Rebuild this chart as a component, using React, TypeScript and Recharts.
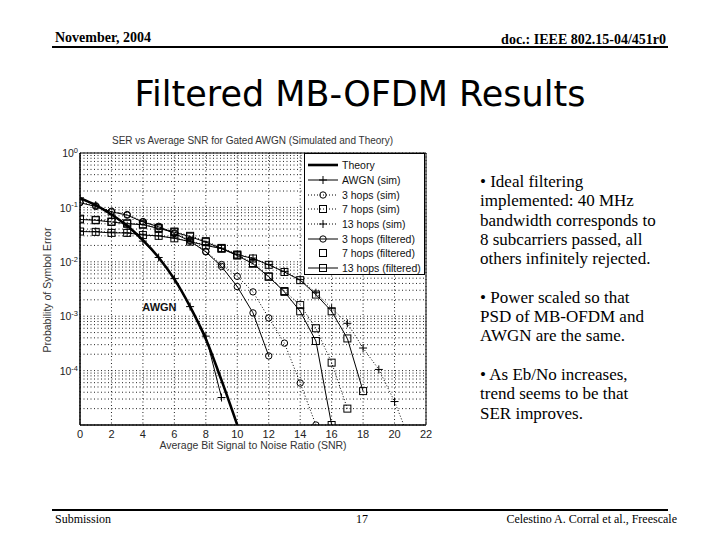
import React from 'react';
import { LineChart, Line, XAxis, YAxis, CartesianGrid, Legend, ReferenceArea, ReferenceDot } from 'recharts';

// x axis: average bit SNR in dB, every series starts at 0 dB with 1 dB steps
const snrTicks = [0, 2, 4, 6, 8, 10, 12, 14, 16, 18, 20, 22];
const decades = [1, 0.1, 0.01, 0.001, 0.0001, 0.00001];
const minorSteps = [1, 2, 3, 4, 5, 6, 7, 8, 9];
const decadeLabels = ['0', '-1', '-2', '-3', '-4'];

// probability of symbol error
const theory = [0.148, 0.11, 0.074, 0.046, 0.025, 0.012, 0.0048, 0.0015, 0.00038, 0.000066, 0.00001];
const awgnSim = [0.15, 0.11, 0.073, 0.046, 0.024, 0.012, 0.0049, 0.0015, 0.00043, 0.000032];
const hops3Sim = [0.125, 0.107, 0.085, 0.074, 0.055, 0.045, 0.034, 0.025, 0.0155, 0.0089, 0.0054, 0.0028, 0.00093, 0.00032, 0.000059, 0.00001];
const hops7Sim = [0.062, 0.059, 0.055, 0.051, 0.049, 0.042, 0.036, 0.03, 0.024, 0.018, 0.0135, 0.0095, 0.0054, 0.0029, 0.0016, 0.0006, 0.00014, 0.00002];
const hops13Sim = [0.037, 0.036, 0.035, 0.034, 0.032, 0.03, 0.0275, 0.024, 0.0204, 0.0178, 0.0138, 0.0117, 0.0089, 0.0066, 0.0047, 0.0027, 0.0014, 0.00074, 0.00026, 0.000105, 0.000027, 0.000005];
const hops3Filt = [0.122, 0.104, 0.083, 0.072, 0.054, 0.044, 0.033, 0.024, 0.0152, 0.0082, 0.0035, 0.00115, 0.000186];
const hops7Filt = [0.06, 0.058, 0.054, 0.05, 0.048, 0.041, 0.035, 0.029, 0.023, 0.0175, 0.013, 0.0092, 0.0053, 0.0028, 0.00123, 0.00035, 0.00001];
const hops13Filt = [0.036, 0.0355, 0.034, 0.034, 0.031, 0.03, 0.027, 0.0235, 0.02, 0.0175, 0.0135, 0.0115, 0.0088, 0.0065, 0.0046, 0.0025, 0.00123, 0.00039, 0.000042];

const yTicks = decades.slice(0, 5).flatMap((d) => minorSteps.map((m) => m * d / 10)).concat([1]);

const toRows = (vals: number[]) => vals.map((v, i) => ({ snr: i, ser: v }));

type Marker = 'none' | 'circle' | 'square' | 'plus';

const series = [
  { name: 'Theory', vals: theory, width: 2.6, dash: undefined, marker: 'none' as Marker, curve: 'monotone', legendLine: true },
  { name: 'AWGN (sim)', vals: awgnSim, width: 1, dash: undefined, marker: 'plus' as Marker, curve: 'linear', legendLine: true },
  { name: '3 hops (sim)', vals: hops3Sim, width: 1, dash: '1 2', marker: 'circle' as Marker, curve: 'linear', legendLine: true },
  { name: '7 hops (sim)', vals: hops7Sim, width: 1, dash: '1 2', marker: 'square' as Marker, curve: 'linear', legendLine: true },
  { name: '13 hops (sim)', vals: hops13Sim, width: 1, dash: '1 2', marker: 'plus' as Marker, curve: 'linear', legendLine: true },
  { name: '3 hops (filtered)', vals: hops3Filt, width: 1, dash: undefined, marker: 'circle' as Marker, curve: 'linear', legendLine: true },
  { name: '7 hops (filtered)', vals: hops7Filt, width: 1, dash: undefined, marker: 'square' as Marker, curve: 'linear', legendLine: false },
  { name: '13 hops (filtered)', vals: hops13Filt, width: 1, dash: undefined, marker: 'square' as Marker, curve: 'linear', legendLine: true },
];

const font = '"Liberation Sans", Arial, sans-serif';

function markerShape(kind: Marker, cx: number, cy: number, key?: string | number) {
  if (kind === 'circle') return <circle key={key} cx={cx} cy={cy} r={3.2} fill="none" stroke="#000" strokeWidth={1} />;
  if (kind === 'square') return <rect key={key} x={cx - 3.5} y={cy - 3.5} width={7} height={7} fill="none" stroke="#000" strokeWidth={1} />;
  if (kind === 'plus')
    return (
      <path key={key} d={`M${cx - 4},${cy}H${cx + 4}M${cx},${cy - 4}V${cy + 4}`} stroke="#000" strokeWidth={1} fill="none" />
    );
  return <g key={key} />;
}

const makeDot = (kind: Marker) => (props: any) => {
  const { cx, cy, index } = props;
  if (kind === 'none' || cx == null || cy == null) return <g key={`d${index}`} />;
  return markerShape(kind, cx, cy, `d${index}`);
};

const YTick = (props: any) => {
  const { x, y, payload } = props;
  const idx = decades.indexOf(payload.value);
  if (idx < 0 || idx >= decadeLabels.length) return <g />;
  return (
    <text x={x} y={y} textAnchor="end" fontFamily={font} fontSize={10.5} fill="#222">
      <tspan dy="0.4em">10</tspan>
      <tspan dy="-0.55em" fontSize={7.5}>{decadeLabels[idx]}</tspan>
    </text>
  );
};

const LegendBox = () => (
  <div
    style={{
      width: 121,
      height: 122,
      border: '1px solid #000',
      background: '#fff',
      fontFamily: font,
      fontSize: 10.5,
      color: '#111',
      paddingTop: 4,
      boxSizing: 'border-box',
    }}
  >
    {series.map((s) => (
      <div key={s.name} style={{ display: 'flex', alignItems: 'center', height: 14.7 }}>
        <svg width={36} height={14} style={{ flex: 'none' }}>
          {s.legendLine && (
            <line x1={3} x2={33} y1={7} y2={7} stroke="#000" strokeWidth={s.width} strokeDasharray={s.dash} />
          )}
          {markerShape(s.marker, 18, 7)}
        </svg>
        <span style={{ marginLeft: 1, whiteSpace: 'nowrap' }}>{s.name}</span>
      </div>
    ))}
  </div>
);

const abs = (left: number, top: number, extra: React.CSSProperties = {}): React.CSSProperties => ({
  position: 'absolute',
  left,
  top,
  ...extra,
});

export default function App() {
  return (
    <div style={{ position: 'absolute', left: 0, top: 0, width: 720, height: 540, background: '#fff', overflow: 'hidden' }}>
      {/* slide header */}
      <div style={abs(55, 30, { fontFamily: '"Liberation Serif", serif', fontWeight: 'bold', fontSize: 14 })}>November, 2004</div>
      <div style={abs(400, 32, { width: 266, textAlign: 'right', fontFamily: '"Liberation Serif", serif', fontWeight: 'bold', fontSize: 14 })}>
        doc.: IEEE 802.15-04/451r0
      </div>
      <div style={abs(52, 46, { width: 616, height: 2, background: '#000' })} />
      <div style={abs(0, 74, { width: 720, textAlign: 'center', fontFamily: '"DejaVu Sans", sans-serif', fontSize: 35 })}>
        Filtered MB-OFDM Results
      </div>

      {/* chart */}
      <div style={abs(0, 130)}>
        <LineChart width={440} height={330} margin={{ top: 23, right: 14, bottom: 15, left: 40 }}>
          <CartesianGrid stroke="#222" strokeDasharray="1 2.5" />
          <XAxis
            dataKey="snr"
            type="number"
            domain={[0, 22]}
            ticks={snrTicks}
            interval={0}
            height={20}
            allowDataOverflow
            tickLine={false}
            tickSize={0}
            tickMargin={5}
            axisLine={{ stroke: '#000' }}
            tick={{ fontFamily: font, fontSize: 11, fill: '#222' }}
          />
          <YAxis
            dataKey="ser"
            type="number"
            scale="log"
            domain={[0.00001, 1]}
            ticks={yTicks}
            interval={0}
            width={40}
            allowDataOverflow
            tickLine={false}
            tickSize={0}
            tickMargin={2}
            axisLine={{ stroke: '#000' }}
            tick={<YTick />}
          />
          <ReferenceArea x1={0} x2={22} y1={0.00001} y2={1} fill="none" stroke="#000" strokeWidth={1} />
          {series.map((s) => (
            <Line
              key={s.name}
              name={s.name}
              data={toRows(s.vals)}
              dataKey="ser"
              type={s.curve as any}
              stroke="#000"
              strokeWidth={s.width}
              strokeDasharray={s.dash}
              dot={makeDot(s.marker)}
              activeDot={false}
              isAnimationActive={false}
            />
          ))}
          <ReferenceDot
            x={5.05}
            y={0.0015}
            r={0}
            fill="none"
            stroke="none"
            label={{ value: 'AWGN', position: 'center', fontFamily: font, fontSize: 11, fontWeight: 'bold', fill: '#111' }}
          />
          <Legend
            layout="horizontal"
            verticalAlign="middle"
            align="center"
            width={121}
            wrapperStyle={{ left: 304, top: 23, width: 121 }}
            content={() => <LegendBox />}
          />
        </LineChart>
        <div style={abs(0, 5, { width: 505, textAlign: 'center', fontFamily: font, fontSize: 10, color: '#333' })}>
          SER vs Average SNR for Gated AWGN (Simulated and Theory)
        </div>
        <div style={abs(83, 309, { width: 340, textAlign: 'center', fontFamily: font, fontSize: 10.5, color: '#333' })}>
          Average Bit Signal to Noise Ratio (SNR)
        </div>
        <div
          style={abs(-22, 153, {
            width: 140,
            textAlign: 'center',
            fontFamily: font,
            fontSize: 10.5,
            color: '#333',
            transform: 'rotate(-90deg)',
            transformOrigin: '70px 7px',
          })}
        >
          Probability of Symbol Error
        </div>
      </div>

      {/* bullets */}
      <div style={abs(480, 172, { width: 181, fontFamily: '"Liberation Serif", serif', fontSize: 17, lineHeight: '19.3px', color: '#000' })}>
        <div>• Ideal filtering implemented: 40 MHz bandwidth corresponds to 8 subcarriers passed, all others infinitely rejected.</div>
        <div style={{ marginTop: 19.3 }}>• Power scaled so that PSD of MB-OFDM and AWGN are the same.</div>
        <div style={{ marginTop: 19.3 }}>• As Eb/No increases, trend seems to be that SER improves.</div>
      </div>

      {/* slide footer */}
      <div style={abs(52, 509, { width: 616, height: 2, background: '#000' })} />
      <div style={abs(55, 512, { fontFamily: '"Liberation Serif", serif', fontSize: 12 })}>Submission</div>
      <div style={abs(356, 512, { fontFamily: '"Liberation Serif", serif', fontSize: 12 })}>17</div>
      <div style={abs(400, 512, { width: 277, textAlign: 'right', fontFamily: '"Liberation Serif", serif', fontSize: 12 })}>
        Celestino A. Corral et al., Freescale
      </div>
    </div>
  );
}
